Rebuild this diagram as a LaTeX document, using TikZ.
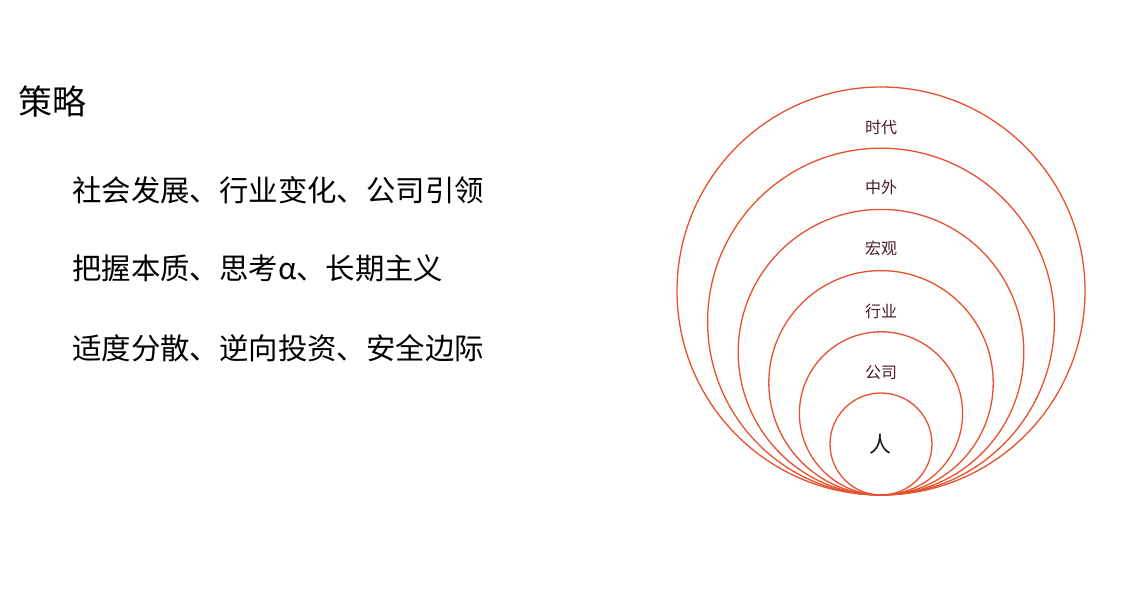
\documentclass[tikz,border=0pt]{standalone}
\usepackage{fontspec}
\setmainfont{Noto Sans CJK SC}
\definecolor{ring}{HTML}{E8502E}
\definecolor{lbl}{HTML}{4A1C2E}
\begin{document}
\begin{tikzpicture}[x=1pt,y=-1pt,
  ringline/.style={draw=ring,line width=1.3pt},
  ringlabel/.style={text=lbl,inner sep=0pt,font=\fontsize{16}{16}\selectfont},
  bodyline/.style={anchor=west,inner sep=0pt,font=\fontsize{29.4}{29.4}\selectfont}]
\useasboundingbox[fill=white] (0,0) rectangle (1140,607);
\node[anchor=west,inner sep=0pt,font=\fontsize{34}{34}\selectfont] (title) at (18,102) {策略};
\node[bodyline] (l1) at (72,190) {社会发展、行业变化、公司引领};
\node[bodyline] (l2) at (72,268) {把握本质、思考α、长期主义};
\node[bodyline] (l3) at (72,348) {适度分散、逆向投资、安全边际};
\coordinate (base) at (881,495);
\foreach \r in {204,173.4,142.8,112.2,81.6,51}{
  \draw[ringline] ([yshift=\r pt]base) circle[radius=\r];
}
\node[ringlabel] (t1) at (881,127) {时代};
\node[ringlabel] (t2) at (881,187) {中外};
\node[ringlabel] (t3) at (881,248) {宏观};
\node[ringlabel] (t4) at (881,311) {行业};
\node[ringlabel] (t5) at (881,373) {公司};
\node[inner sep=0pt,text=black!90,font=\fontsize{22}{22}\selectfont] (t6) at (880,444) {人};
\end{tikzpicture}
\end{document}
